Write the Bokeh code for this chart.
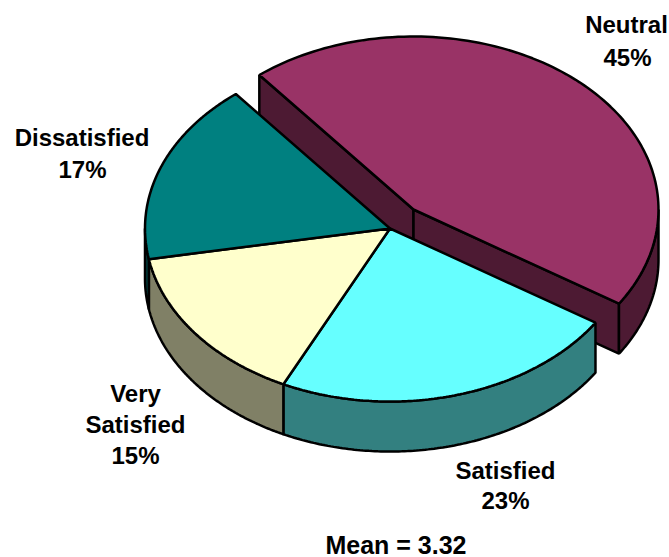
import numpy as np
from bokeh.plotting import figure
from bokeh.models import Range1d, ColumnDataSource
from bokeh.core.properties import value
from bokeh.embed import file_html
from bokeh.resources import INLINE

categories = ["Neutral", "Satisfied", "Very Satisfied", "Dissatisfied"]
shares = [45, 23, 15, 17]
top_colors = ["#993366", "#66FFFF", "#FFFFCC", "#008080"]
side_colors = ["#4D1A33", "#338080", "#808066", "#004040"]
footer = "Mean = 3.32"

START = 129.0
CX, CY = 389.5, 228.0
RX, RY = 245.0, 173.0
DEPTH = 50.0
EXPLODE = (23.5, -19.0)
LW = 2.5


def rim(a0, a1, cx, cy, n=120):
    t = np.radians(np.linspace(a0, a1, n))
    return cx + RX * np.cos(t), cy - RY * np.sin(t)


p = figure(width=669, height=557, x_range=Range1d(0, 669), y_range=Range1d(557, 0),
           toolbar_location=None, output_backend="svg", min_border=0,
           outline_line_color=None)
p.axis.visible = False
p.grid.visible = False

angles = START - np.cumsum([0] + shares) * 3.6
spans = list(zip(angles[:-1], angles[1:]))


def draw(xs, ys, color):
    p.patch(list(xs), list(ys), fill_color=color, line_color="black", line_width=LW)


def top(a0, a1, cx, cy, color):
    x, y = rim(a0, a1, cx, cy)
    draw(np.r_[cx, x], np.r_[cy, y], color)


def rim_wall(hi, lo, cx, cy, color):
    x, y = rim(hi, lo, cx, cy)
    draw(np.r_[x, x[::-1]], np.r_[y, y[::-1] + DEPTH], color)


def cut_wall(a, cx, cy, color):
    x, y = rim(a, a, cx, cy, 1)
    draw([cx, x[0], x[0], cx], [cy, y[0], y[0] + DEPTH, cy + DEPTH], color)


nx, ny = CX + EXPLODE[0], CY + EXPLODE[1]
a0, a1 = spans[0]
cut_wall(a0, nx, ny, side_colors[0])
cut_wall(a1, nx, ny, side_colors[0])
rim_wall(0.0, a1, nx, ny, side_colors[0])
top(a0, a1, nx, ny, top_colors[0])

for i in (1, 2):
    rim_wall(spans[i][0], spans[i][1], CX, CY, side_colors[i])
rim_wall(-180.0, spans[2][1], CX, CY, side_colors[3])
for i in (1, 2, 3):
    top(spans[i][0], spans[i][1], CX, CY, top_colors[i])

pct = {c: f"{s}%" for c, s in zip(categories, shares)}
labels = [
    ("Neutral", 626, 24), (pct["Neutral"], 627, 57),
    ("Dissatisfied", 81.5, 137), (pct["Dissatisfied"], 82, 169),
    ("Very", 135, 393), ("Satisfied", 135, 424), (pct["Very Satisfied"], 135, 455),
    ("Satisfied", 505, 470), (pct["Satisfied"], 505, 500),
]
src = ColumnDataSource(dict(t=[l[0] for l in labels], x=[l[1] for l in labels], y=[l[2] for l in labels]))
p.text("x", "y", text="t", source=src, text_font=value("Liberation Sans"), text_font_style="bold",
       text_font_size="24px", text_align="center", text_baseline="middle", text_color="black")
p.text([395.5], [544], text=[footer], text_font=value("Liberation Sans"), text_font_style="bold",
       text_font_size="25px", text_align="center", text_baseline="middle", text_color="black")

open("out.html", "w").write(file_html(p, INLINE))
